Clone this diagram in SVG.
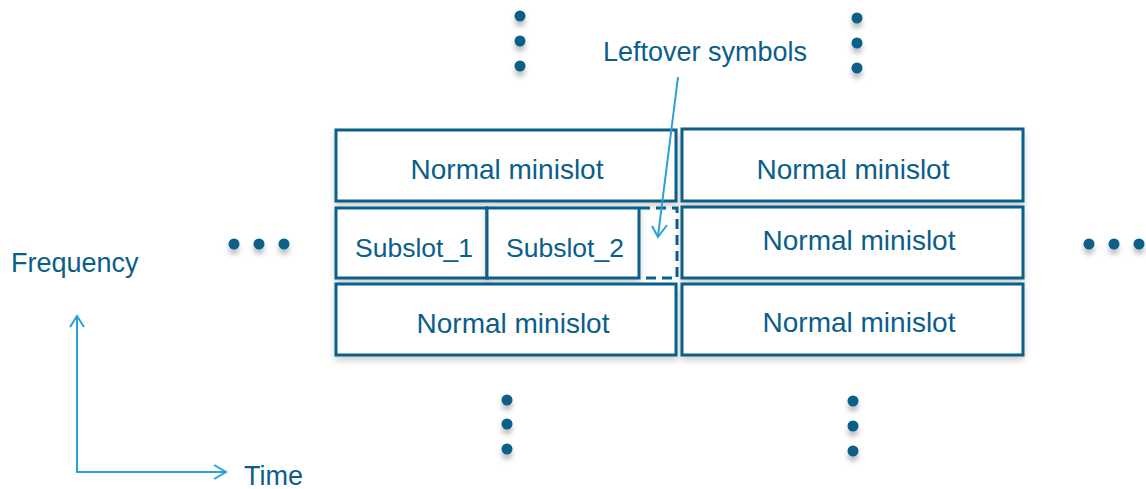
<svg xmlns="http://www.w3.org/2000/svg" width="1146" height="489" viewBox="0 0 1146 489">
<defs>
<style>
.box{fill:#fff;stroke:#0b5f88;stroke-width:3;filter:url(#sh)}
.dash{fill:none;stroke:#0b5f88;stroke-width:3;stroke-dasharray:10,6}
.t{font-family:"Liberation Sans",Arial,sans-serif;font-size:28px;fill:#0a5e8a;text-anchor:middle}
.s{font-size:26.5px}
.lbl{font-family:"Liberation Sans",Arial,sans-serif;font-size:27px;fill:#0a5e8a}
.dot{fill:#0b5f88;filter:url(#dsh)}
.ax{fill:none;stroke:#2a9fd8;stroke-width:2}
</style>
<filter id="sh" x="-5%" y="-20%" width="110%" height="150%">
<feDropShadow dx="0" dy="4" stdDeviation="3" flood-color="#000" flood-opacity="0.18"/>
</filter>
<filter id="dsh" x="-100%" y="-100%" width="300%" height="400%">
<feDropShadow dx="0" dy="5" stdDeviation="2.5" flood-color="#000" flood-opacity="0.25"/>
</filter>
</defs>
<rect width="1146" height="489" fill="#fff"/>
<g id="dots">
<circle class="dot" cx="520" cy="16" r="5.5"/><circle class="dot" cx="520" cy="41" r="5.5"/><circle class="dot" cx="520" cy="66" r="5.5"/>
<circle class="dot" cx="857" cy="18" r="5.5"/><circle class="dot" cx="857" cy="43" r="5.5"/><circle class="dot" cx="857" cy="68" r="5.5"/>
<circle class="dot" cx="507" cy="400" r="5.5"/><circle class="dot" cx="507" cy="424" r="5.5"/><circle class="dot" cx="507" cy="449" r="5.5"/>
<circle class="dot" cx="853" cy="401" r="5.5"/><circle class="dot" cx="853" cy="426" r="5.5"/><circle class="dot" cx="853" cy="451" r="5.5"/>
<circle class="dot" cx="234" cy="244" r="5.5"/><circle class="dot" cx="259" cy="244" r="5.5"/><circle class="dot" cx="284" cy="244" r="5.5"/>
<circle class="dot" cx="1089" cy="244" r="5.5"/><circle class="dot" cx="1114" cy="244" r="5.5"/><circle class="dot" cx="1139" cy="244" r="5.5"/>
</g>
<g id="n_tl"><rect class="box" x="336" y="130" width="340" height="71"/><text class="t" x="507" y="179">Normal minislot</text></g>
<g id="n_tr"><rect class="box" x="682" y="129" width="341" height="72"/><text class="t" x="853" y="179">Normal minislot</text></g>
<g id="sub1"><rect class="box" x="336" y="208" width="151" height="70"/><text class="t s" x="414" y="257">Subslot_1</text></g>
<g id="sub2"><rect class="box" x="487" y="208" width="152" height="70"/><text class="t s" x="565" y="257">Subslot_2</text></g>
<g id="leftover"><path class="dash" d="M640 208 H677 V278 H640"/></g>
<g id="n_mr"><rect class="box" x="682" y="207" width="341" height="71"/><text class="t" x="859" y="250">Normal minislot</text></g>
<g id="n_bl"><rect class="box" x="336" y="284" width="340" height="71"/><text class="t" x="513" y="333">Normal minislot</text></g>
<g id="n_br"><rect class="box" x="682" y="284" width="341" height="71"/><text class="t" x="859" y="332">Normal minislot</text></g>
<g id="labels">
<text class="lbl" x="705" y="61" text-anchor="middle">Leftover symbols</text>
<text class="lbl" x="11" y="272">Frequency</text>
<text class="lbl" x="244" y="485">Time</text>
</g>
<g id="connectors">
<path class="ax" d="M678 77 L658 236"/>
<path class="ax" d="M652 226 L658 237 L667 225"/>
<path class="ax" d="M77 316 V472 H226"/>
<path class="ax" d="M70 327 L77 316 L84 327"/>
<path class="ax" d="M214 465 L226 472 L214 479"/>
</g>
</svg>
